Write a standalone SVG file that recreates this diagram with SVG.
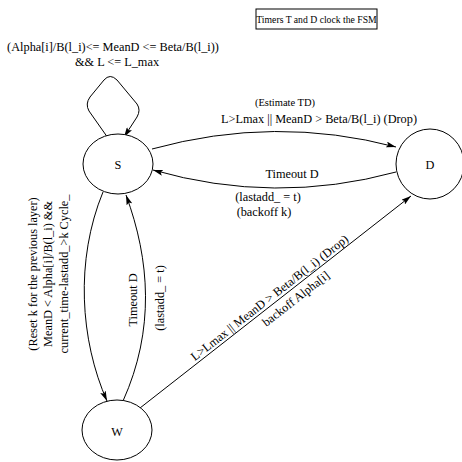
<svg xmlns="http://www.w3.org/2000/svg" width="462" height="462" viewBox="0 0 462 462">
<defs>
<marker id="ah" viewBox="0 0 10 6" refX="10" refY="3" markerWidth="10" markerHeight="6" markerUnits="userSpaceOnUse" orient="auto">
<path d="M0,0 L10,3 L0,6 L2,3 Z" fill="#000"/>
</marker>
<style>
.n{fill:#fff;stroke:#000;stroke-width:1}
.e{fill:none;stroke:#000;stroke-width:1;marker-end:url(#ah)}
text{font-family:"Liberation Serif","Times New Roman",serif;fill:#000;font-size:12.3px}
.m{text-anchor:middle}
.s{font-size:10.5px}
</style>
</defs>
<rect width="462" height="462" fill="#fff"/>
<g id="title">
<rect x="256" y="9" width="121" height="20" fill="#fff" stroke="#000"/>
<text class="m" x="316.5" y="23" style="font-size:9.7px">Timers T and D clock the FSM</text>
</g>
<g id="connectors">
<path class="e" d="M108,138 L89,111 Q85,104 90,97 L104,80 Q110,73 117,80 L137,104 Q141,110 137,117 L124,137"/>
<path class="e" d="M152,149 Q275,115 396,147"/>
<path class="e" d="M396,172 Q275,205 153,170"/>
<path class="e" d="M103,192 C75,260 80,340 107,401"/>
<path class="e" d="M123,401 C155,330 150,260 126,195"/>
<path class="e" d="M140,408 L411,196"/>
</g>
<g id="labels">
<text class="m" x="113" y="51">(Alpha[i]/B(l_i)&lt;= MeanD &lt;= Beta/B(l_i))</text>
<text class="m" x="117" y="66">&amp;&amp; L &lt;= L_max</text>
<text class="m s" x="285" y="106">(Estimate TD)</text>
<text class="m" x="319" y="123">L&gt;Lmax || MeanD &gt; Beta/B(l_i) (Drop)</text>
<text class="m" x="292" y="178">Timeout D</text>
<text class="m" x="268" y="201">(lastadd_ = t)</text>
<text class="m" x="264" y="216">(backoff k)</text>
<text class="m" transform="translate(37,274) rotate(-90)">(Reset k for the previous layer)</text>
<text class="m" transform="translate(52,274) rotate(-90)">MeanD &lt; Alpha[i]/B(l_i) &amp;&amp;</text>
<text class="m" transform="translate(68,274) rotate(-90)">current_time-lastadd_&gt;k Cycle_</text>
<text class="m" transform="translate(137,300) rotate(-90)">Timeout D</text>
<text class="m" transform="translate(164,298) rotate(-90)">(lastadd_ = t)</text>
<g transform="translate(275.5,302) rotate(-38)">
<text class="m" x="-2" y="-3">L&gt;Lmax || MeanD &gt; Beta/B(l_i) (Drop)</text>
<text class="m" x="18" y="14">backoff Alpha[i]</text>
</g>
</g>
<g id="S"><ellipse class="n" cx="118" cy="164" rx="35" ry="30"/><text class="m" x="118" y="169">S</text></g>
<g id="D"><ellipse class="n" cx="430" cy="164" rx="34" ry="35"/><text class="m" x="430" y="169">D</text></g>
<g id="W"><ellipse class="n" cx="117" cy="430" rx="35" ry="30"/><text class="m" x="117" y="436">W</text></g>
</svg>
